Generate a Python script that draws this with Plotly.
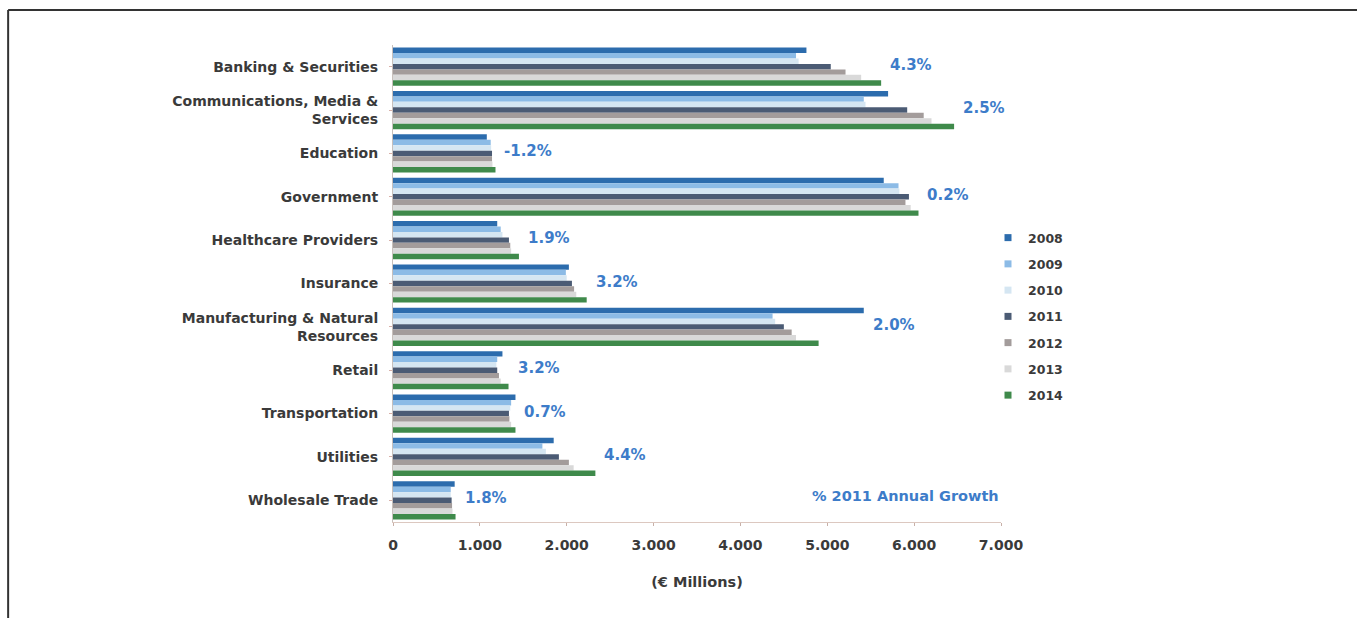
import plotly.graph_objects as go

categories = [
    "Banking & Securities",
    "Communications, Media &<br>Services",
    "Education",
    "Government",
    "Healthcare Providers",
    "Insurance",
    "Manufacturing & Natural<br>Resources",
    "Retail",
    "Transportation",
    "Utilities",
    "Wholesale Trade",
]

years = ["2008", "2009", "2010", "2011", "2012", "2013", "2014"]

v2008 = [4760, 5700, 1080, 5650, 1200, 2025, 5420, 1260, 1410, 1850, 710]
v2009 = [4640, 5420, 1125, 5820, 1240, 1990, 4370, 1200, 1360, 1720, 665]
v2010 = [4670, 5440, 1130, 5830, 1260, 2000, 4400, 1190, 1350, 1760, 665]
v2011 = [5040, 5920, 1140, 5940, 1335, 2060, 4500, 1200, 1335, 1910, 675]
v2012 = [5210, 6110, 1140, 5900, 1350, 2085, 4590, 1220, 1340, 2025, 680]
v2013 = [5390, 6200, 1145, 5960, 1360, 2110, 4640, 1240, 1360, 2080, 685]
v2014 = [5620, 6460, 1180, 6050, 1450, 2230, 4900, 1330, 1410, 2330, 720]

growth_labels = ["4.3%", "2.5%", "-1.2%", "0.2%", "1.9%", "3.2%", "2.0%", "3.2%", "0.7%", "4.4%", "1.8%"]

tick_vals = [0, 1000, 2000, 3000, 4000, 5000, 6000, 7000]
tick_text = ["0", "1.000", "2.000", "3.000", "4.000", "5.000", "6.000", "7.000"]

series = [v2008, v2009, v2010, v2011, v2012, v2013, v2014]
colors = ["#2c6cad", "#8cbbe6", "#d5e6f2", "#4b5b74", "#a39c9b", "#d9d9d9", "#3f8a4b"]

FONT = "DejaVu Sans"
TXT = "#3a3a3a"

fig = go.Figure()
for yr, vals, col in zip(years, series, colors):
    fig.add_trace(go.Bar(
        y=categories, x=vals, name=yr, orientation="h",
        marker=dict(color=col, line=dict(width=0)),
        showlegend=False,
    ))
# legend entries with small square swatches
for yr, col in zip(years, colors):
    fig.add_trace(go.Scatter(
        x=[None], y=[None], mode="markers", name=yr, legendgroup=yr,
        marker=dict(symbol="square", size=7, color=col),
        showlegend=True,
    ))

ann_font = dict(family=FONT, size=15, color="#3d7cc9", weight="bold")
for i, (cat, lab) in enumerate(zip(categories, growth_labels)):
    mx = max(s[i] for s in series)
    fig.add_annotation(x=mx, y=cat, xref="x", yref="y", text=lab, showarrow=False,
                       xanchor="left", xshift=7, yshift=2, font=ann_font)

fig.add_annotation(x=1.0, y=0.055, xref="paper", yref="paper", text="% 2011 Annual Growth",
                   showarrow=False, xanchor="right", yanchor="middle",
                   font=dict(family=FONT, size=14.5, color="#3d7cc9", weight="bold"))

# outer frame lines (top and left)
fig.add_shape(type="line", xref="paper", yref="paper", x0=-0.633, x1=1.6, y0=1.0734, y1=1.0734,
              line=dict(color="#333333", width=2))
fig.add_shape(type="line", xref="paper", yref="paper", x0=-0.633, x1=-0.633, y0=1.0734, y1=-0.3,
              line=dict(color="#333333", width=2))

fig.update_layout(
    width=1357, height=618,
    paper_bgcolor="white", plot_bgcolor="white",
    margin=dict(l=393, r=356, t=45, b=96, autoexpand=False),
    barmode="group", bargap=0.12, bargroupgap=0.0,
    font=dict(family=FONT, size=12, color=TXT),
    showlegend=True,
    legend=dict(x=(988 - 393) / 608, y=(522 - 223) / 477, xanchor="left", yanchor="top",
                font=dict(family=FONT, size=12.5, color=TXT, weight="bold"),
                tracegroupgap=7, bgcolor="rgba(0,0,0,0)"),
    xaxis=dict(range=[0, 7000], tickvals=tick_vals, ticktext=tick_text,
               showgrid=False, zeroline=False, showline=True, linecolor="#dcc8c0", linewidth=1,
               ticks="outside", ticklen=3, tickcolor="#c8b0a8",
               ticklabelstandoff=7,
               tickfont=dict(family=FONT, size=14, color=TXT, weight="bold"),
               title=dict(text="(€ Millions)",
                          font=dict(family=FONT, size=14.5, color=TXT, weight="bold"),
                          standoff=25)),
    yaxis=dict(autorange="reversed", showgrid=False, zeroline=False, showline=True,
               linecolor="#c8c0bc", linewidth=1, ticks="outside", ticklen=3, tickcolor="#d8b0a8",
               tickfont=dict(family=FONT, size=14, color=TXT, weight="bold"),
               ticklabelstandoff=8),
)

fig.write_html("out.html", config={"displayModeBar": False},
               post_script="document.body.style.margin='0';")
